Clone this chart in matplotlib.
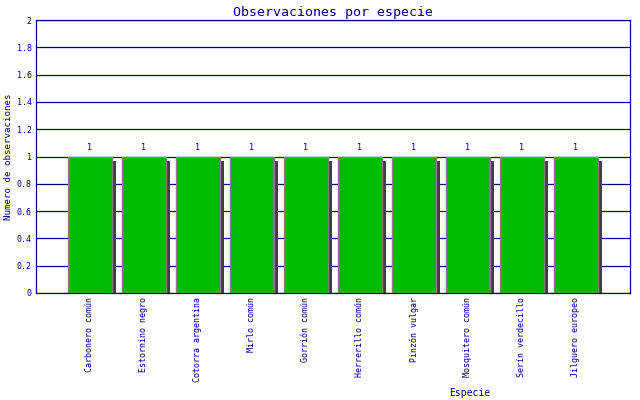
import matplotlib
matplotlib.use("Agg")
import matplotlib.pyplot as plt
import matplotlib.transforms as mtransforms

# data
especies = ["Carbonero común", "Estornino negro", "Cotorra argentina", "Mirlo común",
            "Gorrión común", "Herrerillo común", "Pinzón vulgar", "Mosquitero común",
            "Serín verdecillo", "Jilguero europeo"]
observaciones = [1, 1, 1, 1, 1, 1, 1, 1, 1, 1]
yticks = [0, 0.2, 0.4, 0.6, 0.8, 1, 1.2, 1.4, 1.6, 1.8, 2]
ytick_labels = ["0", "0.2", "0.4", "0.6", "0.8", "1", "1.2", "1.4", "1.6", "1.8", "2"]

navy = "#000080"
plt.rcParams['font.family'] = ['DejaVu Sans Mono', 'DejaVu Sans']

fig = plt.figure(figsize=(6.4, 4.0), dpi=100)
ax = fig.add_axes([36/640, 107/400, 594/640, 273/400])

pos = list(range(1, len(especies) + 1))

# shadow, 4 px right and down
shadow = ax.transData + mtransforms.ScaledTranslation(4/100, -4/100, fig.dpi_scale_trans)
ax.bar(pos, observaciones, width=0.8, color="#404040", transform=shadow, zorder=2)
bars = ax.bar(pos, observaciones, width=0.8, color="#00BB00", edgecolor="#808080",
              linewidth=1.0, zorder=3)
ax.bar_label(bars, labels=[str(v) for v in observaciones], padding=3,
             fontsize=6, color=navy)

ax.set_xlim(0, len(especies) + 1)
ax.set_ylim(0, 2)
ax.set_yticks(yticks)
ax.set_yticklabels(ytick_labels)
ax.set_xticks(pos)
ax.set_xticklabels(especies, rotation=90, va="top")
ax.tick_params(axis="both", length=0, labelsize=6, labelcolor=navy)
ax.tick_params(axis="x", pad=3)
ax.tick_params(axis="y", pad=3)

ax.yaxis.grid(True, color=navy, linewidth=0.9, zorder=1)
ax.set_axisbelow(True)
for s in ax.spines.values():
    s.set_color(navy)
    s.set_linewidth(0.9)

ax.set_title("Observaciones por especie", fontsize=9.5, color=navy, pad=3)
ax.set_ylabel("Numero de observaciones", fontsize=6.6, color=navy, va="center")
ax.yaxis.set_label_coords(-0.047, 0.5)
ax.set_xlabel("Especie", fontsize=7.0, color=navy, va="center")
ax.xaxis.set_label_coords(0.73, -0.366)

fig.savefig("out.png", dpi=100)
